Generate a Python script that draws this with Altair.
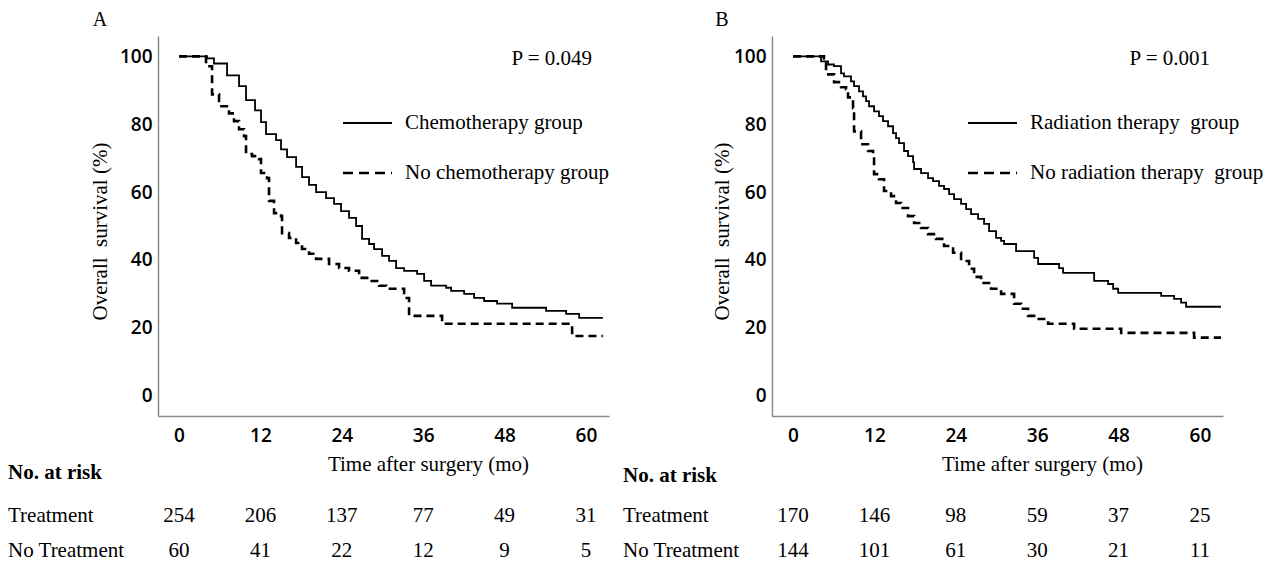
import altair as alt
import pandas as pd

X_TICKS = [0, 12, 24, 36, 48, 60]
Y_TICKS = [0, 20, 40, 60, 80, 100]

# ---- Panel A: chemotherapy ----
A_CHEMO_T = [0, 4.13, 5.16, 7.08, 8.85, 9.88, 11.21, 12.09, 12.83, 14.31, 15.04, 15.93, 17.26,
             18.14, 19.17, 20.21, 21.68, 22.86, 23.89, 25.07, 26.11, 26.99, 28.02, 28.76, 29.94,
             30.97, 32.01, 33.19, 35.10, 36.14, 37.17, 39.38, 40.12, 42.04, 43.51, 44.99, 46.90,
             49.12, 54.13, 57.08, 59.00, 62.5]
A_CHEMO_S = [100, 99.4, 97.9, 94.4, 91.2, 87.1, 84.1, 80.6, 77.1, 75.3, 72.6, 70.3, 67.4,
             64.4, 62.1, 60.0, 58.2, 56.5, 54.4, 52.4, 50.0, 46.2, 44.7, 43.2, 41.2,
             39.7, 37.6, 36.8, 35.9, 33.8, 32.4, 31.8, 30.9, 30.0, 28.8, 27.9, 27.1,
             25.9, 25.0, 24.1, 22.9, 22.9]
A_NOCHEMO_T = [0, 3.98, 4.87, 5.90, 7.37, 8.11, 8.85, 9.59, 9.88, 10.77, 11.80, 12.09, 12.98,
               13.27, 14.01, 15.04, 15.19, 16.22, 17.26, 18.14, 19.17, 20.21, 22.12, 23.60,
               25.07, 26.55, 28.02, 29.50, 30.53, 33.19, 33.92, 38.79, 57.96, 62.5]
A_NOCHEMO_S = [100, 97.1, 88.8, 85.3, 83.2, 80.9, 78.5, 76.5, 71.2, 70.6, 69.7, 65.6, 64.1,
               57.4, 53.8, 52.9, 47.9, 46.5, 45.0, 43.2, 41.8, 40.3, 38.8, 37.6,
               36.8, 34.7, 33.8, 32.4, 31.5, 28.8, 23.5, 21.2, 17.6, 17.6]
A_RISK_TREAT = [254, 206, 137, 77, 49, 31]
A_RISK_NO = [60, 41, 22, 12, 9, 5]
A_LEGEND = ["Chemotherapy group", "No chemotherapy group"]
A_P = "P = 0.049"

# ---- Panel B: radiation therapy ----
B_RAD_T = [0, 4.13, 5.16, 6.05, 7.08, 7.52, 8.55, 9.00, 9.73, 10.32, 10.77, 11.21, 11.95,
           12.68, 13.27, 14.01, 14.75, 15.19, 15.63, 16.37, 16.96, 17.70, 17.85, 18.88, 19.91,
           20.65, 21.53, 22.27, 23.01, 23.75, 24.78, 25.52, 26.25, 27.29, 28.17, 28.91, 29.94,
           30.68, 31.12, 32.89, 35.55, 36.14, 39.23, 39.82, 44.40, 46.46, 47.20, 47.94, 54.28,
           56.19, 57.23, 57.96, 63.1]
B_RAD_S = [100, 98.5, 97.6, 97.1, 95.0, 94.1, 92.6, 91.2, 89.7, 88.2, 86.8, 85.3, 83.8,
           82.4, 80.9, 79.4, 77.4, 75.9, 74.4, 72.1, 70.6, 68.8, 66.8, 65.6, 64.1,
           63.2, 61.8, 60.9, 59.4, 57.9, 56.5, 55.0, 53.5, 52.1, 50.6, 48.5, 46.5,
           45.6, 44.7, 42.6, 40.6, 38.8, 37.6, 36.2, 33.8, 32.9, 31.5, 30.3, 29.4,
           28.5, 27.4, 26.2, 26.2]
B_NORAD_T = [0, 4.57, 4.87, 6.05, 7.08, 7.82, 8.11, 8.85, 9.00, 10.03, 11.06, 11.80, 11.95,
             12.68, 13.42, 14.45, 15.19, 15.93, 16.96, 17.85, 18.88, 19.91, 21.09, 22.27,
             23.60, 24.78, 25.96, 26.70, 27.73, 29.20, 30.68, 32.60, 33.63, 34.66, 35.55,
             37.61, 41.45, 48.38, 59.14, 63.1]
B_NORAD_S = [100, 99.4, 94.7, 92.4, 90.9, 90.3, 87.9, 84.7, 77.9, 74.1, 72.1, 70.6, 65.3,
             63.8, 60.3, 58.8, 56.8, 55.3, 52.9, 50.9, 49.4, 47.6, 46.2, 44.1,
             42.1, 39.7, 37.4, 35.0, 33.2, 31.5, 30.0, 27.1, 25.6, 23.5, 22.6,
             21.2, 19.7, 18.5, 17.1, 17.1]
B_RISK_TREAT = [170, 146, 98, 59, 37, 25]
B_RISK_NO = [144, 101, 61, 30, 21, 11]
B_LEGEND = ["Radiation therapy\u00a0 group", "No radiation therapy\u00a0 group"]
B_P = "P = 0.001"

ROW_LABELS = ["No. at risk", "Treatment", "No Treatment"]
X_TITLE = "Time after surgery (mo)"
Y_TITLE = "Overall\u00a0 survival (%)"

SERIF = "Liberation Serif"
SANS = "Open Sans"
FS = 21
W, H = 451, 380
XDOM = [-3.1, 63.4]
YDOM = [-6, 106]

ONE = pd.DataFrame({"k": [0]})


def label(txt, x, y, align="left", bold=False, size=FS):
    return alt.Chart(ONE).mark_text(
        text=txt, font=SERIF, fontSize=size, align=align, baseline="middle",
        fontWeight="bold" if bold else "normal", color="black"
    ).encode(x=alt.value(x), y=alt.value(y))


def legend_rule(x1, x2, y, dashed):
    kw = dict(color="black", strokeWidth=2.6 if dashed else 1.8)
    if dashed:
        kw["strokeDash"] = [10, 6]
    return alt.Chart(ONE).mark_rule(**kw).encode(
        x=alt.value(x1), x2=alt.value(x2), y=alt.value(y))


def panel(letter, t1, s1, t2, s2, legend, pval, risk1, risk2,
          ytitle_x, leg_x, p_x, row_x, head_y):
    xs = alt.Scale(domain=XDOM, nice=False, zero=False)
    ys = alt.Scale(domain=YDOM, nice=False, zero=False)
    xenc = alt.X("t:Q", scale=xs, axis=alt.Axis(
        values=X_TICKS, title=X_TITLE, titleX=270, titleY=48, titleBaseline="middle",
        titleAlign="center", labelPadding=10, format="d"))
    yenc = alt.Y("s:Q", scale=ys, axis=alt.Axis(
        values=Y_TICKS, title=Y_TITLE, titleX=ytitle_x, titleY=195,
        titleBaseline="middle", titleAlign="center", labelPadding=6, format="d"))

    solid = alt.Chart(pd.DataFrame({"t": t1, "s": s1})).mark_line(
        interpolate="step-after", color="black", strokeWidth=1.8
    ).encode(x=xenc, y=yenc)
    dashed = alt.Chart(pd.DataFrame({"t": t2, "s": s2})).mark_line(
        interpolate="step-after", color="black", strokeWidth=2.6, strokeDash=[8, 5]
    ).encode(x=xenc, y=yenc)

    r1 = alt.Chart(pd.DataFrame({"t": X_TICKS, "n": risk1})).mark_text(
        font=SERIF, fontSize=FS, baseline="middle", color="black"
    ).encode(x=xenc, y=alt.value(480), text="n:Q")
    r2 = alt.Chart(pd.DataFrame({"t": X_TICKS, "n": risk2})).mark_text(
        font=SERIF, fontSize=FS, baseline="middle", color="black"
    ).encode(x=xenc, y=alt.value(515), text="n:Q")

    layers = [
        solid, dashed,
        legend_rule(leg_x, leg_x + 49, 87, False),
        legend_rule(leg_x, leg_x + 49, 137, True),
        label(legend[0], leg_x + 62, 87),
        label(legend[1], leg_x + 62, 137),
        label(pval, p_x, 23, align="right"),
        label(letter, ytitle_x, -16, align="center", size=20),
        label(ROW_LABELS[0], row_x, head_y, bold=True),
        label(ROW_LABELS[1], row_x, 480),
        label(ROW_LABELS[2], row_x, 515),
        r1, r2,
    ]
    return alt.layer(*layers).properties(width=W, height=H)


pa = panel("A", A_CHEMO_T, A_CHEMO_S, A_NOCHEMO_T, A_NOCHEMO_S, A_LEGEND, A_P,
           A_RISK_TREAT, A_RISK_NO, ytitle_x=-58, leg_x=185, p_x=434, row_x=-150, head_y=437)
pb = panel("B", B_RAD_T, B_RAD_S, B_NORAD_T, B_NORAD_S, B_LEGEND, B_P,
           B_RISK_TREAT, B_RISK_NO, ytitle_x=-50, leg_x=196, p_x=438, row_x=-149, head_y=440)

chart = alt.hconcat(pa, pb, spacing=163, bounds="flush").properties(
    padding={"left": 0, "top": 2, "right": 0, "bottom": 0}, background="white"
).configure_view(stroke=None).configure_axis(
    domainColor="#8a8a8a", domainWidth=1.5, ticks=False, grid=False,
    labelFont=SANS, labelFontSize=19, labelFontWeight=600, labelColor="black",
    titleFont=SERIF, titleFontSize=FS, titleFontWeight="normal", titleColor="black"
)

chart.save("out.html", embed_options={"renderer": "svg", "actions": False})
